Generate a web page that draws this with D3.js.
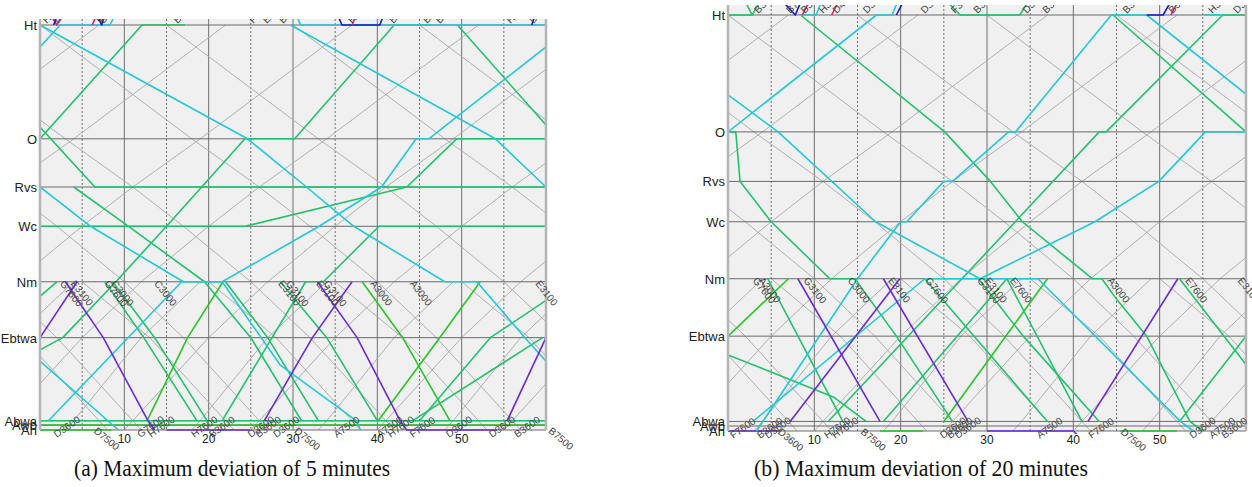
<!DOCTYPE html>
<html>
<head>
<meta charset="utf-8">
<script src="https://cdn.jsdelivr.net/npm/d3@7"></script>
<style>
body { margin: 0; background: #fff; }
svg { display: block; }
</style>
</head>
<body>
<svg id="fig" width="1252" height="487"></svg>
<script>
'use strict';

// stations, top to bottom, with their position along the line
var stations = ["Ht", "O", "Rvs", "Wc", "Nm", "Ebtwa", "Abwa", "Awb", "Ah"];
var stationKm = [100, 71.9, 60, 50.3, 36.6, 22.8, 2.3, 1.2, 0];
var timeTicks = [10, 20, 30, 40, 50];
var gridMinutes = [5, 10, 15, 20, 25, 30, 35, 40, 45, 50, 55];
var captions = ["(a) Maximum deviation of 5 minutes", "(b) Maximum deviation of 20 minutes"];

var trainColors = {
    cyan: "#24c8d6",
    green: "#22c26c",
    lime: "#2ac42a",
    purple: "#6a2bd6",
    blue: "#1a1ac8",
    magenta: "#d4206c"
};

// original timetable (grey), same in both panels: [minute, station or km]
var grayPaths = [
    [[-45,"Ht"],[-27,"O"],[-19,"Rvs"],[-13,"Wc"],[-5,"Nm"],[2,"Ebtwa"],[11,"Abwa"],[12,"Ah"]],
    [[-30,"Ht"],[-12,"O"],[-4,"Rvs"],[2,"Wc"],[10,"Nm"],[17,"Ebtwa"],[26,"Abwa"],[27,"Ah"]],
    [[-15,"Ht"],[3,"O"],[11,"Rvs"],[17,"Wc"],[25,"Nm"],[32,"Ebtwa"],[41,"Abwa"],[42,"Ah"]],
    [[0,"Ht"],[18,"O"],[26,"Rvs"],[32,"Wc"],[40,"Nm"],[47,"Ebtwa"],[56,"Abwa"],[57,"Ah"]],
    [[15,"Ht"],[33,"O"],[41,"Rvs"],[47,"Wc"],[55,"Nm"],[62,"Ebtwa"]],
    [[30,"Ht"],[48,"O"],[56,"Rvs"],[62,"Wc"]],
    [[45,"Ht"],[63,"O"]],
    [[-50,"Ah"],[-49,"Abwa"],[-40,"Ebtwa"],[-33,"Nm"],[-25,"Wc"],[-19,"Rvs"],[-11,"O"],[7,"Ht"]],
    [[-35,"Ah"],[-34,"Abwa"],[-25,"Ebtwa"],[-18,"Nm"],[-10,"Wc"],[-4,"Rvs"],[4,"O"],[22,"Ht"]],
    [[-20,"Ah"],[-19,"Abwa"],[-10,"Ebtwa"],[-3,"Nm"],[5,"Wc"],[11,"Rvs"],[19,"O"],[37,"Ht"]],
    [[-5,"Ah"],[-4,"Abwa"],[5,"Ebtwa"],[12,"Nm"],[20,"Wc"],[26,"Rvs"],[34,"O"],[52,"Ht"]],
    [[10,"Ah"],[11,"Abwa"],[20,"Ebtwa"],[27,"Nm"],[35,"Wc"],[41,"Rvs"],[49,"O"],[67,"Ht"]],
    [[25,"Ah"],[26,"Abwa"],[35,"Ebtwa"],[42,"Nm"],[50,"Wc"],[56,"Rvs"],[64,"O"]],
    [[40,"Ah"],[41,"Abwa"],[50,"Ebtwa"],[57,"Nm"],[65,"Wc"]],
    [[55,"Ah"],[56,"Abwa"],[65,"Ebtwa"]],
    [[-10,"Nm"],[-2,"Ebtwa"],[7,"Abwa"],[8,"Ah"]],
    [[5,"Nm"],[13,"Ebtwa"],[22,"Abwa"],[23,"Ah"]],
    [[20,"Nm"],[28,"Ebtwa"],[37,"Abwa"],[38,"Ah"]],
    [[35,"Nm"],[43,"Ebtwa"],[52,"Abwa"],[53,"Ah"]],
    [[50,"Nm"],[58,"Ebtwa"],[67,"Abwa"]],
    [[-12,"Ah"],[-11,"Abwa"],[-3,"Ebtwa"],[4,"Nm"]],
    [[3,"Ah"],[4,"Abwa"],[12,"Ebtwa"],[19,"Nm"]],
    [[18,"Ah"],[19,"Abwa"],[27,"Ebtwa"],[34,"Nm"]],
    [[33,"Ah"],[34,"Abwa"],[42,"Ebtwa"],[49,"Nm"]],
    [[48,"Ah"],[49,"Abwa"],[57,"Ebtwa"],[64,"Nm"]]
];

// rescheduled trains, panel (a)
var trainsA = [
    {c:"green", p:[[0,"Abwa"],[60,"Abwa"]]},
    {c:"lime", p:[[0,"Awb"],[60,"Awb"]]},
    {c:"lime", p:[[0,"Ah"],[8.5,"Ah"]]},
    {c:"purple", p:[[15,"Ah"],[24.9,"Ah"]]},
    {c:"green", p:[[0,74.8],[6.5,"Rvs"],[60,"Rvs"]]},
    {c:"green", p:[[0,"Wc"],[24.3,"Wc"],[43.5,"Rvs"],[49.4,"O"],[60,"O"]]},
    {c:"green", p:[[21.6,"Abwa"],[31.5,"Nm"],[33.6,"Nm"],[40.2,"Wc"],[60,"Wc"]]},
    {c:"green", p:[[0,19.8],[2.7,"Ebtwa"],[9,"Nm"],[15,"Wc"],[24.3,"O"],[30.2,"O"],[42,"Ht"],[46.5,"Ht"]]},
    {c:"green", p:[[0,"O"],[12.1,"Ht"],[17.2,"Ht"]]},
    {c:"green", p:[[49.5,"Ht"],[60,75.3]]},
    {c:"green", p:[[4,"Rvs"],[10.5,"Wc"],[19.5,"Nm"],[25,"Ebtwa"],[31,"Abwa"]]},
    {c:"green", p:[[0,33],[2,"Nm"]]},
    {c:"green", p:[[7.7,"Nm"],[12.3,"Ebtwa"],[18.6,"Abwa"]]},
    {c:"green", p:[[8.6,"Nm"],[13.6,"Ebtwa"],[19.8,"Abwa"]]},
    {c:"lime", p:[[12.7,"Abwa"],[17.5,"Ebtwa"],[21.7,"Nm"]]},
    {c:"green", p:[[22,"Nm"],[27,"Ebtwa"],[33,"Abwa"]]},
    {c:"green", p:[[28.5,"Nm"],[34,"Ebtwa"],[40,"Abwa"]]},
    {c:"lime", p:[[38.2,"Nm"],[43,"Ebtwa"],[48.6,"Abwa"]]},
    {c:"lime", p:[[40.1,"Abwa"],[47.4,"Ebtwa"],[52.2,"Nm"]]},
    {c:"green", p:[[44.2,"Abwa"],[59.6,"Ebtwa"]]},
    {c:"green", p:[[45,"Abwa"],[53.4,"Ebtwa"],[60,32]]},
    {c:"cyan", p:[[0,"Ht"],[24.6,"O"],[31.6,"Rvs"],[37.2,"Wc"],[48,"Nm"],[51.8,"Nm"],[57.5,"Ebtwa"],[60,17]]},
    {c:"cyan", p:[[0,94.6],[2.4,"Ht"],[8.3,"Ht"],[9,103]]},
    {c:"cyan", p:[[29.7,"Ht"],[54,"O"],[60,"Rvs"]]},
    {c:"cyan", p:[[30.3,103],[30.9,"Ht"],[60,"Ht"]]},
    {c:"cyan", p:[[1,"Abwa"],[16.8,"Nm"],[21.6,"Nm"],[33.1,"Wc"],[40.5,"Rvs"],[44.6,"O"],[46.1,"O"],[60,94.6]]},
    {c:"cyan", p:[[0,"Rvs"],[6,"Wc"],[17,"Nm"],[21.6,"Nm"],[28.5,16],[37.5,"Abwa"],[38,"Ah"]]},
    {c:"cyan", p:[[0,17],[9.3,"Ah"]]},
    {c:"purple", p:[[0,"Ebtwa"],[4.4,"Nm"]]},
    {c:"purple", p:[[3,"Nm"],[7.5,"Ebtwa"],[12.8,"Abwa"],[13.6,"Ah"]]},
    {c:"purple", p:[[26.6,"Abwa"],[32.3,"Ebtwa"],[37,"Nm"]]},
    {c:"purple", p:[[32.9,"Nm"],[37.6,"Ebtwa"],[42.7,"Abwa"],[43.5,"Ah"],[54.2,"Ah"]]},
    {c:"purple", p:[[55.4,"Abwa"],[60,"Ebtwa"]]},
    {c:"magenta", p:[[0.8,104],[2,"Ht"],[3,104]]},
    {c:"blue", p:[[1.6,"Ht"],[2.4,104]]},
    {c:"magenta", p:[[6.2,"Ht"],[7,104]]},
    {c:"blue", p:[[6.5,104],[7.3,"Ht"],[8,104]]},
    {c:"blue", p:[[35,104],[35.8,"Ht"],[40.3,"Ht"],[41,104]]},
    {c:"magenta", p:[[37,"Ht"],[37.8,104]]},
    {c:"blue", p:[[58.3,"Ht"],[59,104]]}
];

// rescheduled trains, panel (b)
var trainsB = [
    {c:"purple", p:[[0,"Ah"],[6,"Ah"]]},
    {c:"lime", p:[[17.6,"Ah"],[22.6,"Ah"]]},
    {c:"purple", p:[[30,"Ah"],[40,"Ah"],[41,-2]]},
    {c:"lime", p:[[45.4,"Ah"],[52,"Ah"]]},
    {c:"green", p:[[0,"Ht"],[2.8,"Ht"],[3.9,104]]},
    {c:"green", p:[[1.8,104],[2.8,"Ht"]]},
    {c:"green", p:[[25,104],[26.9,"Ht"],[33.8,"Ht"],[35,104]]},
    {c:"green", p:[[0,"O"],[0.9,"O"],[1.4,"Rvs"],[5,"Wc"],[11.8,"Nm"],[14.7,"Nm"],[19.5,"Ebtwa"],[26,"Abwa"]]},
    {c:"green", p:[[8.4,"Ht"],[25.1,"O"],[30.4,"Rvs"],[34.1,"Wc"],[42.2,"Nm"],[43.3,"Nm"],[44.9,32],[48.5,"Ebtwa"],[53.5,"Abwa"],[55,"Ah"]]},
    {c:"green", p:[[11.6,"Abwa"],[27.1,"Nm"],[43,"O"],[43.8,"O"],[57.3,"Ht"],[60,"Ht"]]},
    {c:"green", p:[[44.6,"Ht"],[60,"O"]]},
    {c:"lime", p:[[0,"Ebtwa"],[7,"Nm"]]},
    {c:"green", p:[[0,18.3],[12.2,8.2],[16,"Abwa"]]},
    {c:"green", p:[[4.6,"Nm"],[8.1,"Ebtwa"],[13.3,"Abwa"]]},
    {c:"green", p:[[22.8,"Nm"],[28.5,"Ebtwa"],[37,"Abwa"]]},
    {c:"green", p:[[29,"Nm"],[34.2,"Ebtwa"],[43,"Abwa"]]},
    {c:"green", p:[[32.3,"Nm"],[41,"Abwa"]]},
    {c:"green", p:[[18,"Abwa"],[32.3,"Nm"]]},
    {c:"lime", p:[[25,"Abwa"],[37,"Nm"]]},
    {c:"green", p:[[52.3,"Nm"],[60,16]]},
    {c:"green", p:[[52.3,"Abwa"],[60,"Ebtwa"]]},
    {c:"cyan", p:[[0,"O"],[17.2,"Ht"],[19,"Ht"],[19.8,104]]},
    {c:"cyan", p:[[0,80.8],[5.8,"O"],[17.1,"Wc"],[29.2,"Nm"],[35.9,"Nm"],[52.4,"Abwa"],[53.9,"Ah"]]},
    {c:"cyan", p:[[3.3,"Ah"],[15,"Nm"],[20,"Wc"],[20.7,"Wc"],[25,"Rvs"],[26,"Rvs"],[32.5,"O"],[33.3,"O"],[44.4,"Ht"],[48.5,"Ht"],[60,81]]},
    {c:"cyan", p:[[2.9,"Abwa"],[22.8,"Nm"],[29.2,"Nm"],[42.5,"Wc"],[49.9,"Rvs"],[55.3,"O"],[60,"O"]]},
    {c:"cyan", p:[[8.4,"Ht"],[10.2,"Ht"],[11,104]]},
    {c:"cyan", p:[[55.2,"Ht"],[57.3,"Ht"]]},
    {c:"purple", p:[[8.1,"Nm"],[17.6,"Abwa"]]},
    {c:"purple", p:[[7.2,"Abwa"],[19.9,"Nm"]]},
    {c:"purple", p:[[18,"Nm"],[27.8,"Abwa"]]},
    {c:"purple", p:[[41.7,"Abwa"],[52.1,"Nm"]]},
    {c:"blue", p:[[6,104],[7.8,"Ht"],[8.6,104]]},
    {c:"magenta", p:[[8.6,"Ht"],[9.6,104]]},
    {c:"magenta", p:[[12,"Ht"],[13,104]]},
    {c:"blue", p:[[19.5,"Ht"],[20.5,104]]},
    {c:"blue", p:[[48.5,"Ht"],[50.4,"Ht"],[51.5,104]]},
    {c:"magenta", p:[[51.3,"Ht"],[52.3,104]]}
];

// train names: [minute, station, text, angle]
var labelsA = [
    [2.3,"Nm","G7600",52],[3.6,"Nm","E3100",52],[7.6,"Nm","G7600",52],[8.4,"Nm","C3000",52],
    [13.5,"Nm","C3000",52],[28.2,"Nm","E3100",52],[29.1,"Nm","G3100",52],[32.7,"Nm","E3100",52],
    [33.6,"Nm","G3100",52],[39.1,"Nm","A3000",52],[43.8,"Nm","A3000",52],[58.7,"Nm","E3100",52],
    [2.0,"Ah","D3600",-35],[6.3,"Ah","D7500",40],[11.9,"Ah","G7600",-35],[13.2,"Ah","H7600",-35],
    [18.3,"Ah","H7600",-35],[20.4,"Ah","B3600",-35],[25,"Ah","D3600",-35],[25.9,"Ah","B3600",-35],
    [28,"Ah","D3600",-35],[30.1,"Ah","D7500",40],[35.2,"Ah","A7500",-35],[40.3,"Ah","A7500",-35],
    [41.6,"Ah","H7600",-35],[44.2,"Ah","F7600",-35],[48.5,"Ah","D3600",-35],[53.6,"Ah","D3600",-35],
    [56.6,"Ah","B3600",-35],[60.2,"Ah","B7500",40],
    [0.8,"Ht","H3600",-45],[2.1,"Ht","D3600",-45],[7.1,"Ht","B3600",-45],[7.5,"Ht","B7600",-45],
    [16.3,"Ht","B3600",-45],[25.3,"Ht","F3600",-45],[26.9,"Ht","E3600",-45],[28.8,"Ht","B3600",-45],
    [37,"Ht","H3600",-45],[41.9,"Ht","B3600",-45],[45.9,"Ht","B3600",-45],[47.4,"Ht","B7600",-45],
    [55.8,"Ht","H3600",-45],[58.5,"Ht","D3600",-45]
];
var labelsB = [
    [2.8,"Nm","G7600",52],[3.5,"Nm","A3000",52],[8.7,"Nm","G3100",52],[13.8,"Nm","C3000",52],
    [18.5,"Nm","E3100",52],[22.8,"Nm","G7600",52],[28.8,"Nm","G3100",52],[29.7,"Nm","E3100",52],
    [32.6,"Nm","E7600",52],[43.9,"Nm","A3000",52],[52.9,"Nm","E7600",52],[59,"Nm","E3100",52],
    [0.6,"Ah","F7600",-35],[3.7,"Ah","B3600",-35],[4.6,"Ah","D3600",-35],[5.7,"Ah","D3600",40],
    [11.5,"Ah","H7600",-35],[12.4,"Ah","H7600",-35],[15.3,"Ah","B7500",40],[24.9,"Ah","D3600",-35],
    [25.7,"Ah","B3600",-35],[26.6,"Ah","D3600",-35],[36.1,"Ah","A7500",-35],[42.1,"Ah","F7600",-35],
    [45.4,"Ah","D7500",40],[53.8,"Ah","D3600",-35],[56.1,"Ah","A7500",-35],[57.5,"Ah","B3600",-35],
    [3.5,"Ht","B3600",-45],[7.2,"Ht","B7600",-45],[8.9,"Ht","B3600",-45],[11,"Ht","H3600",-45],
    [12.6,"Ht","D4600",-45],[16.1,"Ht","D3600",-45],[22.8,"Ht","D3600",-45],[26.3,"Ht","F3600",-45],
    [28.9,"Ht","B3600",-45],[34.6,"Ht","D3600",-45],[36.9,"Ht","B3600",-45],[46.2,"Ht","B3600",-45],
    [51.5,"Ht","B3600",-45],[56.1,"Ht","H3600",-45],[59,"Ht","D3600",-45]
];

function km(s) {
    return typeof s === "string" ? stationKm[stations.indexOf(s)] : s;
}

var svg = d3.select("#fig");
var defs = svg.append("defs");

var panels = [
    {x0: 40, x1: 546, top: 19, yHt: 25, yAh: 430, trains: trainsA, labels: labelsA, caption: captions[0], capX: 232, capW: 316},
    {x0: 728, x1: 1246, top: 5, yHt: 15, yAh: 431, trains: trainsB, labels: labelsB, caption: captions[1], capX: 921, capW: 334}
];

panels.forEach(function (p, i) {
    var x = d3.scaleLinear().domain([0, 60]).range([p.x0, p.x1]);
    var y = d3.scaleLinear().domain([0, 100]).range([p.yAh, p.yHt]);
    var line = d3.line()
        .x(function (d) { return x(d[0]); })
        .y(function (d) { return y(km(d[1])); });

    defs.append("clipPath").attr("id", "clip" + i)
        .append("rect")
        .attr("x", p.x0).attr("y", p.top)
        .attr("width", p.x1 - p.x0).attr("height", p.yAh - p.top + 3);

    var g = svg.append("g");

    g.append("rect")
        .attr("x", p.x0).attr("y", p.top)
        .attr("width", p.x1 - p.x0).attr("height", p.yAh - p.top)
        .attr("fill", "#f0f0f0");

    // minute grid: solid every 10, dotted every 5
    g.selectAll(".vgrid").data(gridMinutes).enter().append("line")
        .attr("x1", function (d) { return x(d); })
        .attr("x2", function (d) { return x(d); })
        .attr("y1", p.top).attr("y2", p.yAh)
        .attr("stroke", "#707070")
        .attr("stroke-width", 1)
        .attr("stroke-dasharray", function (d) { return d % 10 === 0 ? null : "2,2"; });

    var plot = g.append("g").attr("clip-path", "url(#clip" + i + ")");

    plot.selectAll(".gray").data(grayPaths).enter().append("path")
        .attr("d", line)
        .attr("fill", "none")
        .attr("stroke", "#a8a8a8")
        .attr("stroke-width", 0.9);

    plot.selectAll(".station").data(stations).enter().append("line")
        .attr("x1", p.x0).attr("x2", p.x1)
        .attr("y1", function (d) { return y(km(d)); })
        .attr("y2", function (d) { return y(km(d)); })
        .attr("stroke", "#6a6a6a")
        .attr("stroke-width", 1);

    plot.selectAll(".train").data(p.trains).enter().append("path")
        .attr("d", function (d) { return line(d.p); })
        .attr("fill", "none")
        .attr("stroke", function (d) { return trainColors[d.c]; })
        .attr("stroke-width", 1.6)
        .attr("stroke-linejoin", "round");

    // left and right frame
    g.selectAll(".frame").data([p.x0, p.x1]).enter().append("line")
        .attr("x1", function (d) { return d; })
        .attr("x2", function (d) { return d; })
        .attr("y1", p.top).attr("y2", p.yAh)
        .attr("stroke", "#b4b4b4")
        .attr("stroke-width", 2.5);

    // train names
    var topLabels = p.labels.filter(function (d) { return d[1] === "Ht"; });
    var otherLabels = p.labels.filter(function (d) { return d[1] !== "Ht"; });
    plot.selectAll(".toplab").data(topLabels).enter().append("text")
        .attr("transform", function (d) {
            return "translate(" + x(d[0]) + "," + (y(km(d[1])) - 1) + ") rotate(" + d[3] + ")";
        })
        .attr("font-family", "Liberation Sans, Arial, sans-serif")
        .attr("font-size", 10)
        .attr("fill", "#444")
        .text(function (d) { return d[2]; });
    g.selectAll(".lab").data(otherLabels).enter().append("text")
        .attr("transform", function (d) {
            var dy = d[3] < 0 ? 8 : 2;
            return "translate(" + x(d[0]) + "," + (y(km(d[1])) + dy) + ") rotate(" + d[3] + ")";
        })
        .attr("font-family", "Liberation Sans, Arial, sans-serif")
        .attr("font-size", 10)
        .attr("fill", "#444")
        .text(function (d) { return d[2]; });

    // station names
    g.selectAll(".sname").data(stations).enter().append("text")
        .attr("x", p.x0 - 3)
        .attr("y", function (d) { return y(km(d)) + 5; })
        .attr("text-anchor", "end")
        .attr("font-family", "Liberation Sans, Arial, sans-serif")
        .attr("font-size", 13)
        .attr("fill", "#222")
        .text(function (d) { return d; });

    // minute labels
    g.selectAll(".tick").data(timeTicks).enter().append("text")
        .attr("x", function (d) { return x(d); })
        .attr("y", p.yAh + 13)
        .attr("text-anchor", "middle")
        .attr("font-family", "Liberation Sans, Arial, sans-serif")
        .attr("font-size", 12)
        .attr("fill", "#222")
        .text(function (d) { return d; });

    svg.append("text")
        .attr("x", p.capX)
        .attr("y", 476)
        .attr("text-anchor", "middle")
        .attr("font-family", "Liberation Serif, Times New Roman, serif")
        .attr("font-size", 23)
        .attr("fill", "#111")
        .attr("textLength", p.capW)
        .attr("lengthAdjust", "spacingAndGlyphs")
        .text(p.caption);
});
</script>
</body>
</html>
